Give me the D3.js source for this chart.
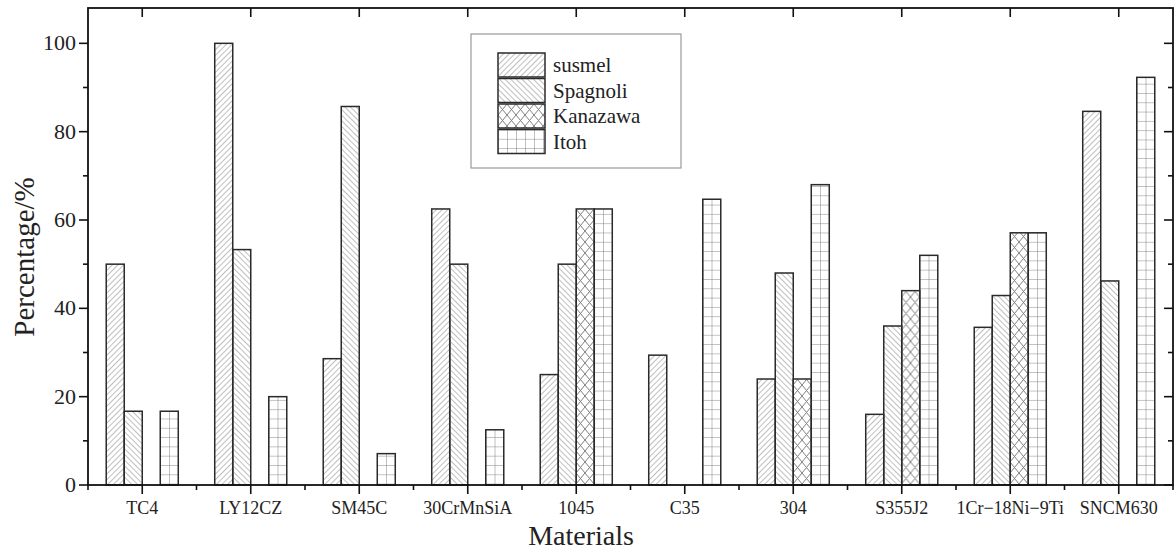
<!DOCTYPE html>
<html>
<head>
<meta charset="utf-8">
<script src="https://cdn.jsdelivr.net/npm/d3@7"></script>
<style>
  body { margin: 0; background: #fff; }
  svg { display: block; }
  text { font-family: "Liberation Serif", "Times New Roman", serif; fill: #222; }
</style>
</head>
<body>
<div id="chart"></div>
<script>
////////////////////////////////////////////////////////////////////////////////
// Data
////////////////////////////////////////////////////////////////////////////////
var materials = ["TC4", "LY12CZ", "SM45C", "30CrMnSiA", "1045", "C35", "304", "S355J2", "1Cr\u221218Ni\u22129Ti", "SNCM630"];
var seriesNames = ["susmel", "Spagnoli", "Kanazawa", "Itoh"];
var susmel   = [50, 100, 28.6, 62.5, 25, 29.4, 24, 16, 35.7, 84.6];
var spagnoli = [16.7, 53.3, 85.7, 50, 50, 0, 48, 36, 42.9, 46.2];
var kanazawa = [0, 0, 0, 0, 62.5, 0, 24, 44, 57.1, 0];
var itoh     = [16.7, 20, 7.1, 12.5, 62.5, 64.7, 68, 52, 57.1, 92.3];
var yTicks = [0, 20, 40, 60, 80, 100];
var yMinorTicks = [10, 30, 50, 70, 90];

var allSeries = [susmel, spagnoli, kanazawa, itoh];

////////////////////////////////////////////////////////////////////////////////
// Layout  (note: "top" is taken by window.top, so use plot* names)
////////////////////////////////////////////////////////////////////////////////
var W = 1175, H = 554;
var plotLeft = 88, plotRight = 1173, plotTop = 8, plotBottom = 485;

var svg = d3.select("#chart").append("svg")
   .attr("width", W)
   .attr("height", H);

var defs = svg.append("defs");
var hatchColor = "#808080";

// susmel: "///"
var p1 = defs.append("pattern").attr("id", "pat0")
   .attr("patternUnits", "userSpaceOnUse")
   .attr("width", 4).attr("height", 4)
   .attr("patternTransform", "rotate(45)");
p1.append("line").attr("x1", 0).attr("y1", 0).attr("x2", 0).attr("y2", 4)
   .attr("stroke", hatchColor).attr("stroke-width", 1);

// Spagnoli: "\\\"
var p2 = defs.append("pattern").attr("id", "pat1")
   .attr("patternUnits", "userSpaceOnUse")
   .attr("width", 4).attr("height", 4)
   .attr("patternTransform", "rotate(-45)");
p2.append("line").attr("x1", 0).attr("y1", 0).attr("x2", 0).attr("y2", 4)
   .attr("stroke", hatchColor).attr("stroke-width", 1);

// Kanazawa: cross hatch
var p3 = defs.append("pattern").attr("id", "pat2")
   .attr("patternUnits", "userSpaceOnUse")
   .attr("width", 9).attr("height", 11);
p3.append("path").attr("d", "M0,0L9,11M9,0L0,11")
   .attr("stroke", hatchColor).attr("stroke-width", 1).attr("fill", "none");

// Itoh: grid
var p4 = defs.append("pattern").attr("id", "pat3")
   .attr("patternUnits", "userSpaceOnUse")
   .attr("width", 9).attr("height", 9.3);
p4.append("path").attr("d", "M0,0L9,0M0,0L0,9.3")
   .attr("stroke", hatchColor).attr("stroke-width", 1).attr("fill", "none");

////////////////////////////////////////////////////////////////////////////////
// Scales
////////////////////////////////////////////////////////////////////////////////
var x = d3.scaleBand().domain(materials).range([plotLeft, plotRight]).padding(0);
var inner = d3.scaleBand().domain(seriesNames)
   .range([x.bandwidth() * 0.168, x.bandwidth() * 0.832]).padding(0);
var y = d3.scaleLinear().domain([0, 108]).range([plotBottom, plotTop]);

////////////////////////////////////////////////////////////////////////////////
// Bars
////////////////////////////////////////////////////////////////////////////////
var groups = svg.append("g").selectAll("g")
   .data(materials)
   .enter().append("g")
   .attr("transform", function(d) { return "translate(" + x(d) + ",0)"; });

groups.selectAll("rect")
   .data(function(d, i) {
      return seriesNames.map(function(s, j) { return { s: s, j: j, v: allSeries[j][i] }; })
         .filter(function(e) { return e.v > 0; });
   })
   .enter().append("rect")
   .attr("x", function(d) { return inner(d.s); })
   .attr("y", function(d) { return y(d.v); })
   .attr("width", inner.bandwidth())
   .attr("height", function(d) { return y(0) - y(d.v); })
   .attr("fill", function(d) { return "url(#pat" + d.j + ")"; })
   .attr("stroke", "#2a2a2a")
   .attr("stroke-width", 1.5);

////////////////////////////////////////////////////////////////////////////////
// Axes
////////////////////////////////////////////////////////////////////////////////
var bounds = materials.map(function(d) { return x(d); }).concat([plotRight]);

// bottom axis
var xAxis = svg.append("g").attr("transform", "translate(0," + plotBottom + ")");
xAxis.selectAll(".maj").data(materials).enter().append("line")
   .attr("x1", function(d) { return x(d) + x.bandwidth() / 2; })
   .attr("x2", function(d) { return x(d) + x.bandwidth() / 2; })
   .attr("y1", 0).attr("y2", 9)
   .attr("stroke", "#111").attr("stroke-width", 1.6);
xAxis.selectAll(".min").data(bounds).enter().append("line")
   .attr("x1", function(d) { return d; }).attr("x2", function(d) { return d; })
   .attr("y1", 0).attr("y2", 5)
   .attr("stroke", "#111").attr("stroke-width", 1.6);
xAxis.selectAll("text").data(materials).enter().append("text")
   .attr("x", function(d) { return x(d) + x.bandwidth() / 2; })
   .attr("y", 29)
   .attr("text-anchor", "middle")
   .attr("font-size", "18px")
   .text(function(d) { return d; });

// top axis ticks (inward)
svg.append("g").selectAll("line").data(materials).enter().append("line")
   .attr("x1", function(d) { return x(d) + x.bandwidth() / 2; })
   .attr("x2", function(d) { return x(d) + x.bandwidth() / 2; })
   .attr("y1", plotTop).attr("y2", plotTop + 9)
   .attr("stroke", "#111").attr("stroke-width", 1.6);

// left axis
var yAxis = svg.append("g");
yAxis.selectAll(".maj").data(yTicks).enter().append("line")
   .attr("x1", plotLeft - 9).attr("x2", plotLeft)
   .attr("y1", function(d) { return y(d); }).attr("y2", function(d) { return y(d); })
   .attr("stroke", "#111").attr("stroke-width", 1.6);
yAxis.selectAll(".min").data(yMinorTicks).enter().append("line")
   .attr("x1", plotLeft - 5).attr("x2", plotLeft)
   .attr("y1", function(d) { return y(d); }).attr("y2", function(d) { return y(d); })
   .attr("stroke", "#111").attr("stroke-width", 1.6);
yAxis.selectAll("text").data(yTicks).enter().append("text")
   .attr("x", plotLeft - 12)
   .attr("y", function(d) { return y(d) + 7; })
   .attr("text-anchor", "end")
   .attr("font-size", "22px")
   .text(function(d) { return d; });

// right axis ticks (inward)
var rAxis = svg.append("g");
rAxis.selectAll(".maj").data(yTicks).enter().append("line")
   .attr("x1", plotRight - 9).attr("x2", plotRight)
   .attr("y1", function(d) { return y(d); }).attr("y2", function(d) { return y(d); })
   .attr("stroke", "#111").attr("stroke-width", 1.6);
rAxis.selectAll(".min").data(yMinorTicks).enter().append("line")
   .attr("x1", plotRight - 5).attr("x2", plotRight)
   .attr("y1", function(d) { return y(d); }).attr("y2", function(d) { return y(d); })
   .attr("stroke", "#111").attr("stroke-width", 1.6);

// frame
svg.append("rect")
   .attr("x", plotLeft).attr("y", plotTop)
   .attr("width", plotRight - plotLeft).attr("height", plotBottom - plotTop)
   .attr("fill", "none").attr("stroke", "#111").attr("stroke-width", 1.8);

// axis titles
svg.append("text")
   .attr("x", 581).attr("y", 545)
   .attr("text-anchor", "middle")
   .attr("font-size", "28px")
   .text("Materials");

svg.append("text")
   .attr("transform", "translate(34,257) rotate(-90)")
   .attr("text-anchor", "middle")
   .attr("font-size", "29px")
   .text("Percentage/%");

////////////////////////////////////////////////////////////////////////////////
// Legend
////////////////////////////////////////////////////////////////////////////////
var legend = svg.append("g");
legend.append("rect")
   .attr("x", 471).attr("y", 34).attr("width", 210).attr("height", 134)
   .attr("fill", "#fff").attr("stroke", "#999").attr("stroke-width", 1.2);

var items = legend.selectAll(".item").data(seriesNames).enter().append("g")
   .attr("transform", function(d, i) { return "translate(498," + (53 + i * 25.5) + ")"; });
items.append("rect")
   .attr("width", 47).attr("height", 24)
   .attr("fill", function(d, i) { return "url(#pat" + i + ")"; })
   .attr("stroke", "#2a2a2a").attr("stroke-width", 1.5);
items.append("text")
   .attr("x", 55).attr("y", 19)
   .attr("font-size", "21px")
   .text(function(d) { return d; });
</script>
</body>
</html>
